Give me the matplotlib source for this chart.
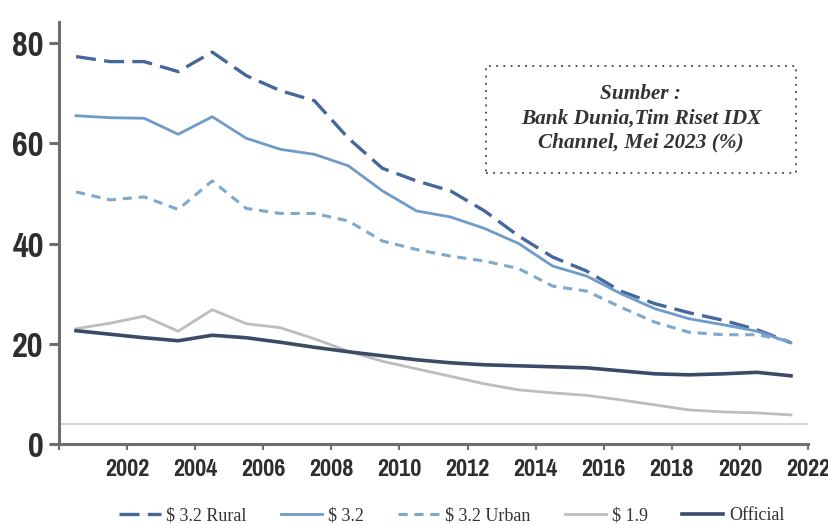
import numpy as np
import matplotlib
matplotlib.use("Agg")
import matplotlib.pyplot as plt
from matplotlib import font_manager as fm
from matplotlib.patches import Rectangle

# yearly series (percent)
years = list(range(2000, 2022))
rural = [77.3, 76.3, 76.3, 74.3, 78.2, 73.5, 70.5, 68.5, 61.0, 55.0, 52.5, 50.5,
         46.5, 41.5, 37.3, 34.5, 30.5, 28.0, 26.2, 24.7, 22.8, 20.2]
total = [65.5, 65.1, 65.0, 61.8, 65.3, 61.0, 58.8, 57.8, 55.5, 50.5, 46.5, 45.3,
         43.0, 40.0, 35.5, 33.5, 30.0, 27.0, 25.0, 23.8, 22.5, 20.2]
urban = [50.3, 48.7, 49.3, 46.8, 52.5, 47.0, 46.0, 46.0, 44.5, 40.5, 38.8, 37.5,
         36.5, 35.0, 31.5, 30.5, 27.3, 24.3, 22.3, 21.8, 21.8, 20.5]
usd19 = [23.0, 24.1, 25.5, 22.5, 26.8, 24.0, 23.2, 21.0, 18.5, 16.5, 15.0, 13.5,
         12.0, 10.8, 10.2, 9.7, 8.8, 7.8, 6.8, 6.4, 6.2, 5.8]
official = [22.6, 21.9, 21.2, 20.6, 21.7, 21.2, 20.3, 19.3, 18.4, 17.6, 16.8, 16.2,
            15.8, 15.6, 15.4, 15.2, 14.6, 14.0, 13.8, 14.0, 14.3, 13.6]

y_ticks = [0, 20, 40, 60, 80]
x_ticks = list(range(2000, 2023, 2))
x_labels = [""] + [str(y) for y in x_ticks[1:]]
source_text = "Sumber :\nBank Dunia,Tim Riset IDX\nChannel, Mei 2023 (%)"

serif_font = ["Liberation Serif", "DejaVu Serif"]
axis_grey = "#6e6e6e"


def narrow_bold_font():
    # look for a condensed / narrow bold face among the installed fonts
    best = None
    for f in fm.fontManager.ttflist:
        name = (f.name + " " + f.fname).lower()
        narrow = "narrow" in name or "condensed" in name or f.stretch in ("condensed", "semi-condensed")
        bold = f.weight in ("bold", 700, "heavy", 800, 900) or "bold" in f.fname.lower()
        italic = f.style != "normal" or "oblique" in f.fname.lower() or "italic" in f.fname.lower()
        if narrow and bold and not italic:
            if best is None or "narrow" in name:
                best = f.fname
    return best


fname = narrow_bold_font()
if fname:
    ytick_prop = fm.FontProperties(fname=fname, size=27)
    xtick_prop = fm.FontProperties(fname=fname, size=19)
else:
    ytick_prop = fm.FontProperties(family="DejaVu Sans", weight="bold", size=19)
    xtick_prop = fm.FontProperties(family="DejaVu Sans", weight="bold", size=13)

fig = plt.figure(figsize=(8.29, 5.25), dpi=100)
ax = fig.add_axes([0.0712, 0.1543, 0.9035, 0.8038])

x = np.array(years) + 0.5  # points sit in the middle of each year

ax.axhline(4, color="#d6d6d6", lw=1.5, zorder=1)
ax.plot(x, rural, color="#46679c", lw=2.4, dashes=(6, 2.5), label="$ 3.2 Rural")
ax.plot(x, total, color="#6f9bc8", lw=2.0, label="$ 3.2")
ax.plot(x, urban, color="#7ea8cc", lw=2.2, dashes=(3, 2.2), label="$ 3.2 Urban")
ax.plot(x, usd19, color="#bdbdbd", lw=2.0, label="$ 1.9")
ax.plot(x, official, color="#3b4a66", lw=2.6, label="Official")

ax.set_xlim(2000, 2022)
ax.set_ylim(0, 84.2)
ax.set_yticks(y_ticks)
ax.set_xticks(x_ticks)
ax.set_xticklabels(x_labels)

for side in ["top", "right"]:
    ax.spines[side].set_visible(False)
for side in ["left", "bottom"]:
    ax.spines[side].set_color(axis_grey)
    ax.spines[side].set_linewidth(2.2)

ax.tick_params(axis="y", direction="out", length=7, width=2.2, color=axis_grey, pad=4)
ax.tick_params(axis="x", direction="out", length=4, width=1.5, color=axis_grey, pad=7)
for lbl in ax.get_yticklabels():
    lbl.set_fontproperties(ytick_prop)
    lbl.set_color("#2e2e2e")
for lbl in ax.get_xticklabels():
    lbl.set_fontproperties(xtick_prop)
    lbl.set_color("#2e2e2e")

# source note in a dotted box
ax.add_patch(Rectangle((0.570, 0.642), 0.414, 0.254, transform=ax.transAxes,
                       fill=True, fc="white", ec="#444444", lw=1.3, ls=(0, (1, 3)),
                       zorder=4, clip_on=False))
ax.text(0.777, 0.772, source_text, transform=ax.transAxes, ha="center", va="center",
        family=serif_font, fontsize=15.3, fontweight="bold", fontstyle="italic",
        color="#333333", linespacing=1.3, zorder=5)

leg = fig.legend(loc="lower center", bbox_to_anchor=(0.545, -0.03), ncol=5,
                 frameon=False, handlelength=2.3, columnspacing=1.9, handletextpad=0.3,
                 prop={"family": serif_font, "size": 13})
for t in leg.get_texts():
    t.set_color("#333333")

fig.savefig("out.png", dpi=100)
